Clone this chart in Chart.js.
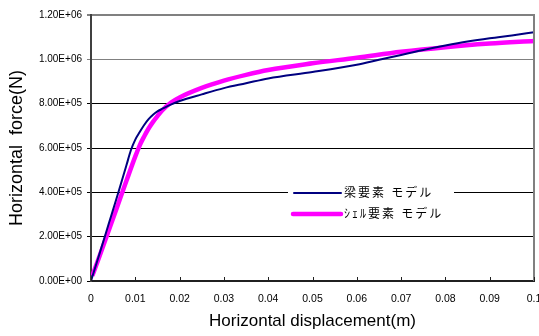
<!DOCTYPE html>
<html>
<head>
<meta charset="utf-8">
<script src="https://cdn.jsdelivr.net/npm/chart.js@4.4.0/dist/chart.umd.min.js"></script>
<style>
	html, body { margin: 0; padding: 0; background: #ffffff; }
	#wrap { width: 539px; height: 336px; }
</style>
</head>
<body>
<div id="wrap"><canvas id="force-chart" width="539" height="336"></canvas></div>
<script>
const seriesLabels = ["梁要素 モデル", "ｼｪﾙ要素 モデル"];

const beamDisp = [0, 0.002, 0.004, 0.006, 0.008, 0.009, 0.010, 0.011, 0.012, 0.013, 0.014, 0.015, 0.016, 0.018, 0.020, 0.025, 0.030, 0.035, 0.040, 0.050, 0.060, 0.065, 0.070, 0.075, 0.080, 0.085, 0.090, 0.095, 0.100];
const beamForce = [0, 128000, 258000, 388000, 522000, 590000, 638000, 672000, 704000, 730000, 750000, 765000, 776000, 796000, 812000, 842000, 870000, 892000, 914000, 943000, 976000, 998000, 1020000, 1042000, 1062000, 1080000, 1095000, 1108000, 1122000];

const shellDisp = [0.0003, 0.002, 0.004, 0.006, 0.008, 0.010, 0.011, 0.012, 0.013, 0.014, 0.015, 0.016, 0.018, 0.020, 0.025, 0.030, 0.035, 0.040, 0.050, 0.060, 0.070, 0.080, 0.090, 0.100];
const shellForce = [24000, 116000, 228000, 340000, 452000, 562000, 612000, 652000, 688000, 718000, 744000, 768000, 804000, 828000, 871000, 904000, 930000, 952000, 982000, 1007000, 1034000, 1055000, 1071000, 1083000];

const xTickLabels = ["0", "0.01", "0.02", "0.03", "0.04", "0.05", "0.06", "0.07", "0.08", "0.09", "0.1"];
const yTickLabels = ["0.00E+00", "2.00E+05", "4.00E+05", "6.00E+05", "8.00E+05", "1.00E+06", "1.20E+06"];

const fontFamily = "'Liberation Sans', Arial, 'Noto Sans CJK JP', sans-serif";

function toPoints(xs, ys) {
	return xs.map((x, i) => ({ x: x, y: ys[i] }));
}

// inward x ticks, right border and the legend box inside the plot
const framePlugin = {
	id: "frame",
	afterDraw(chart) {
		const ctx = chart.ctx;
		const area = chart.chartArea;
		const xScale = chart.scales.x;

		ctx.save();
		ctx.strokeStyle = "#808080";
		ctx.lineWidth = 2;
		ctx.beginPath();
		ctx.moveTo(area.right, area.top - 1);
		ctx.lineTo(area.right, area.bottom);
		ctx.stroke();

		ctx.strokeStyle = "#202020";
		ctx.lineWidth = 1;
		xScale.ticks.forEach((tick) => {
			const px = Math.round(xScale.getPixelForValue(tick.value)) + 0.5;
			ctx.beginPath();
			ctx.moveTo(px, area.bottom);
			ctx.lineTo(px, area.bottom - 4);
			ctx.stroke();
		});

		const boxLeft = area.left + 197;
		const boxTop = area.top + 167;
		ctx.fillStyle = "#ffffff";
		ctx.fillRect(boxLeft, boxTop, 166, 46);

		ctx.font = "12px " + fontFamily;
		ctx.letterSpacing = "2px";
		ctx.textBaseline = "middle";
		ctx.textAlign = "left";
		chart.data.datasets.forEach((ds, i) => {
			const y = boxTop + 11 + i * 21;
			ctx.strokeStyle = ds.borderColor;
			ctx.lineWidth = ds.borderWidth;
			ctx.lineCap = "round";
			ctx.beginPath();
			ctx.moveTo(boxLeft + 6 - i, y);
			ctx.lineTo(boxLeft + 53, y);
			ctx.stroke();
			ctx.fillStyle = "#000000";
			ctx.fillText(ds.label, boxLeft + 56, y + 1);
		});
		ctx.restore();
	},
};

new Chart(document.getElementById("force-chart"), {
	type: "line",
	data: {
		datasets: [
			{
				label: seriesLabels[0],
				data: toPoints(beamDisp, beamForce),
				borderColor: "#000080",
				borderWidth: 2,
				pointRadius: 0,
				cubicInterpolationMode: "monotone",
				order: 1,
			},
			{
				label: seriesLabels[1],
				data: toPoints(shellDisp, shellForce),
				borderColor: "#ff00ff",
				borderWidth: 4.5,
				pointRadius: 0,
				cubicInterpolationMode: "monotone",
				order: 2,
			},
		],
	},
	options: {
		responsive: false,
		animation: false,
		devicePixelRatio: 1,
		layout: { padding: { top: 15, right: 5, left: 0, bottom: 0 } },
		plugins: {
			legend: { display: false },
			tooltip: { enabled: false },
		},
		scales: {
			x: {
				type: "linear",
				min: 0,
				max: 0.1,
				afterBuildTicks: (scale) => {
					scale.ticks = xTickLabels.map((label, i) => ({ value: i * 0.01 }));
				},
				ticks: {
					autoSkip: false,
					color: "#000000",
					font: { family: fontFamily, size: 10.5 },
					padding: 4,
					maxRotation: 0,
					callback: (value, index) => xTickLabels[index],
				},
				grid: { display: false },
				border: { display: true, color: "#202020", width: 2 },
				title: {
					display: true,
					text: "Horizontal displacement(m)",
					color: "#000000",
					font: { family: fontFamily, size: 17 },
					padding: { top: 2, bottom: 4 },
				},
				afterFit: (scale) => {
					scale.height = 55;
					scale.paddingRight = 0;
				},
			},
			y: {
				min: 0,
				max: 1200000,
				ticks: {
					stepSize: 200000,
					color: "#000000",
					font: { family: fontFamily, size: 10 },
					padding: 5,
					callback: (value, index) => yTickLabels[index],
				},
				grid: {
					color: (c) => (c.tick && c.tick.value >= 1000000 ? "#808080" : "#000000"),
					lineWidth: (c) => (c.tick && c.tick.value === 1200000 ? 2 : 1),
					tickLength: 4,
				},
				border: { display: true, color: "#404040", width: 2 },
				title: {
					display: true,
					text: "Horizontal  force(N)",
					color: "#000000",
					font: { family: fontFamily, size: 18 },
					padding: { top: 6, bottom: 4 },
				},
				afterFit: (scale) => { scale.width = 91; },
			},
		},
	},
	plugins: [framePlugin],
});
</script>
</body>
</html>
